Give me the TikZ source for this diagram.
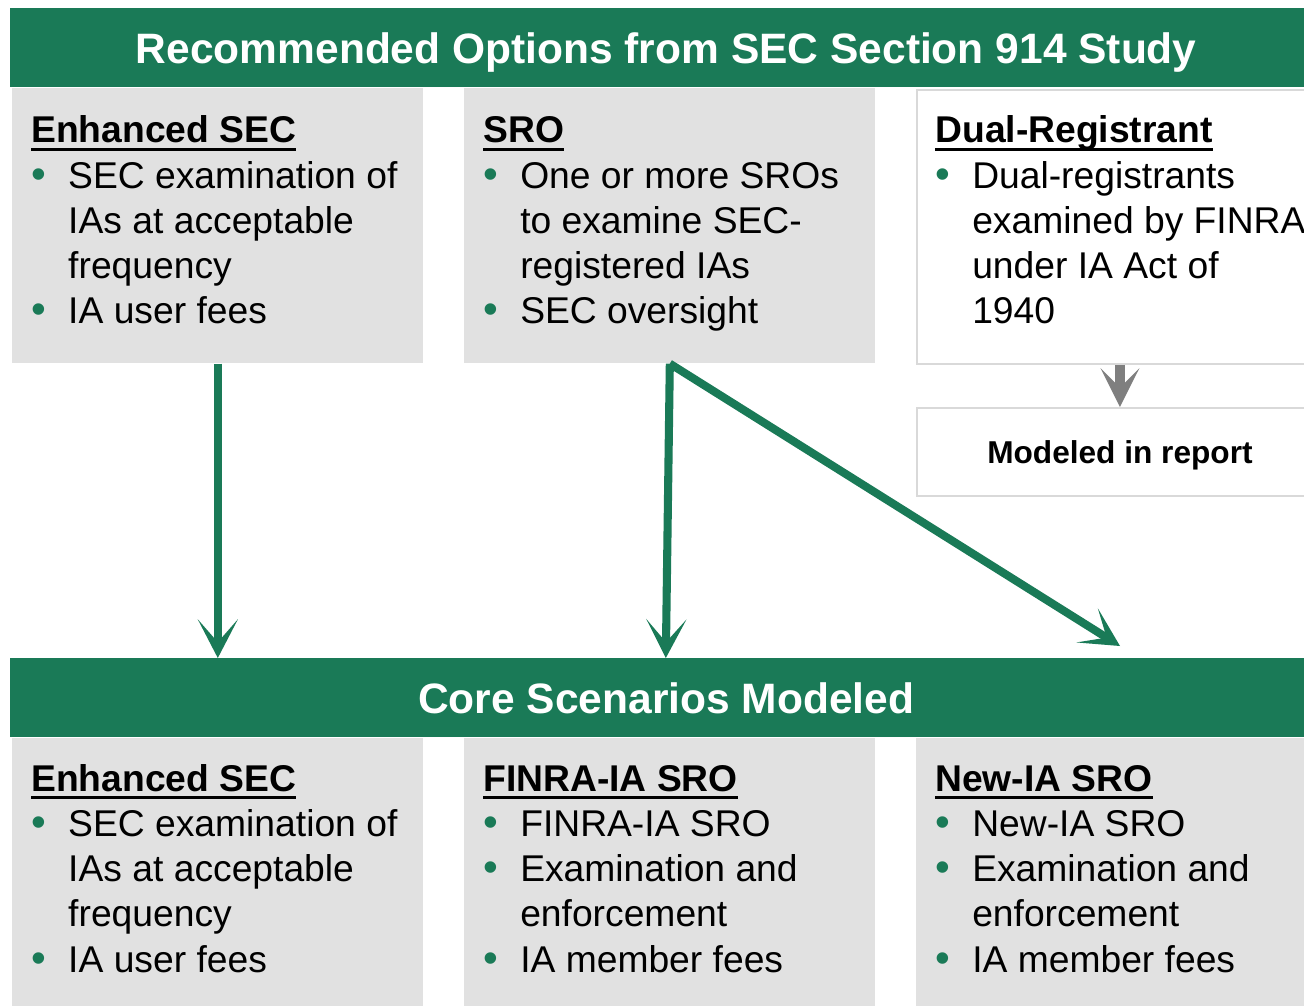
\documentclass[tikz,border=0pt]{standalone}
\usepackage{fontspec}
\setmainfont{Liberation Sans}
\usetikzlibrary{calc,arrows.meta}
\definecolor{secgreen}{RGB}{26,122,87}
\definecolor{panelgray}{RGB}{225,225,225}
\definecolor{edgegray}{RGB}{217,217,217}
\definecolor{tipgray}{RGB}{127,127,127}
% underlined bold heading, bullet and hanging indent
\newsavebox{\hdbox}
\newcommand{\hdr}[1]{\strut\sbox{\hdbox}{\bfseries #1}\rlap{\rule[-4.3pt]{\wd\hdbox}{1.7pt}}\usebox{\hdbox}}
\newcommand{\bul}{\makebox[21pt][l]{\color{secgreen}\fontsize{24pt}{24pt}\selectfont\textbullet}}
\newcommand{\bulind}{\hspace*{21pt}}

\begin{document}
\begin{tikzpicture}[x=0.02cm,y=-0.02cm,
  banner/.style={fill=secgreen,text=white,font=\fontsize{24.2pt}{29pt}\selectfont\bfseries,
    minimum width=26.24cm,minimum height=1.58cm,inner sep=0pt,text height=17.6pt,text depth=0pt,anchor=north west},
  panel/.style={fill=panelgray,minimum width=8.22cm,minimum height=5.5cm,inner sep=0pt,anchor=north west},
  outlined/.style={draw=edgegray,line width=1.1pt,fill=white,minimum width=8.12cm,inner sep=0pt,anchor=north west},
  body/.style={anchor=north west,align=left,inner sep=0pt,font=\fontsize{21.2pt}{25.7pt}\selectfont},
  flow/.style={draw=secgreen,line width=4.6pt,-{Stealth[length=22pt,width=22.8pt,inset=13pt]}},
  feed/.style={draw=tipgray,line width=5.6pt,-{Stealth[length=22pt,width=22pt,inset=11pt]}}]
  \useasboundingbox (0,0) rectangle (1304,1005);
  \clip (0,0) rectangle (1304,1005);

  % options from the study
  \node[banner] (study) at (10,8) {Recommended Options from SEC Section 914 Study};
  \node[panel] (enh) at (12,88) {};
  \node[panel] (sro) at (464,88) {};
  \node[outlined,minimum height=5.48cm] (dual) at (916,89) {};
  \node[outlined,minimum height=1.76cm,font=\fontsize{18pt}{22pt}\selectfont\bfseries,
    text height=13.6pt,text depth=0pt] (model) at (916,407) {Modeled in report};

  \node[body] (enhtxt) at (31,111) {\hdr{Enhanced SEC}\\
    \bul SEC examination of\\ \bulind IAs at acceptable\\ \bulind frequency\\
    \bul IA user fees};
  \node[body] (srotxt) at (483,111) {\hdr{SRO}\\
    \bul One or more SROs\\ \bulind to examine SEC-\\ \bulind registered IAs\\
    \bul SEC oversight};
  \node[body] (dualtxt) at (935,111) {\hdr{Dual-Registrant}\\
    \bul Dual-registrants\\ \bulind examined by FINRA\\ \bulind under IA Act of\\
    \bulind 1940};

  % scenarios that were modeled
  \node[banner] (core) at (10,658) {Core Scenarios Modeled};
  \node[panel] (enhcore) at (12,738) {};
  \node[panel] (finra) at (464,738) {};
  \node[panel] (newia) at (916,738) {};

  \node[body] (enhcoretxt) at (31,759.5) {\hdr{Enhanced SEC}\\
    \bul SEC examination of\\ \bulind IAs at acceptable\\ \bulind frequency\\
    \bul IA user fees};
  \node[body] (finratxt) at (483,759.5) {\hdr{FINRA-IA SRO}\\
    \bul FINRA-IA SRO\\ \bul Examination and\\ \bulind enforcement\\
    \bul IA member fees};
  \node[body] (newiatxt) at (935,759.5) {\hdr{New-IA SRO}\\
    \bul New-IA SRO\\ \bul Examination and\\ \bulind enforcement\\
    \bul IA member fees};

  % connectors
  \coordinate (diagend) at (1120,646);
  \draw[flow] (enh.south) -- (enh.south |- core.north);
  \draw[flow] (sro.south) -- ($(sro.south |- core.north)+(-4,0)$);
  \draw[flow] (sro.south) -- (diagend);
  \draw[feed] (dual.south) -- (model.north);
\end{tikzpicture}
\end{document}
